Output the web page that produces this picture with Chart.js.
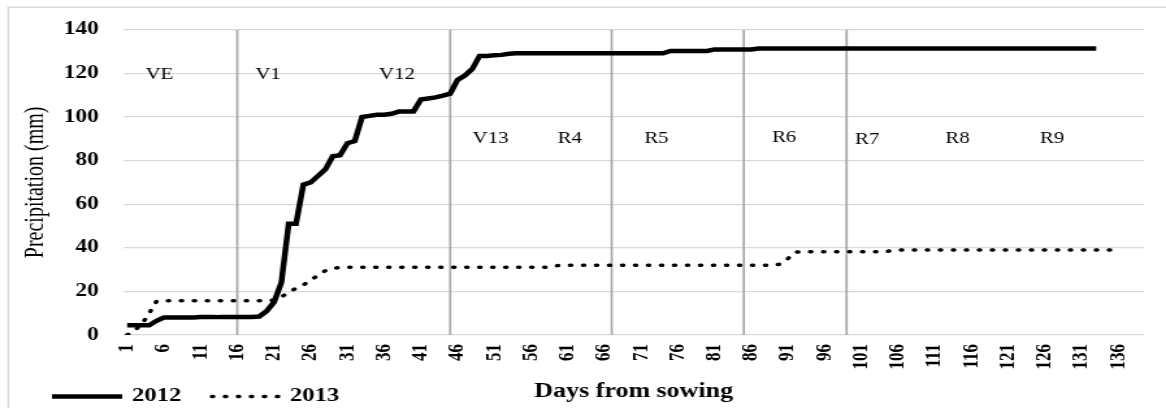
<!DOCTYPE html>
<html>
<head>
<meta charset="utf-8">
<script src="https://cdn.jsdelivr.net/npm/chart.js@4.4.0/dist/chart.umd.min.js"></script>
<style>
  html, body { margin: 0; padding: 0; background: #fff; }
</style>
</head>
<body>
<!-- drawn narrower and stretched sideways, like the original picture -->
<canvas id="precipChart" width="897" height="408" style="display:block;width:1166px;height:408px"></canvas>
<script>
const dayCount = 139;
const days = [];
for (let d = 1; d <= dayCount; d++) days.push(String(d));

// cumulative precipitation (mm), one value per day after sowing
const precip2012 = [
    4.5, 4.5, 4.5, 4.5, 6.5, 8, 8, 8, 8, 8,
    8.2, 8.2, 8.2, 8.3, 8.3, 8.3, 8.3, 8.3, 8.5, 11,
    15, 24, 51, 51, 69, 70, 73, 76, 82, 82.5,
    88, 89, 100, 100.5, 101, 101, 101.5, 102.5, 102.5, 102.5,
    108, 108.5, 109, 109.8, 110.7, 117, 119, 122, 128, 128,
    128.3, 128.5, 129, 129.2, 129.2, 129.2, 129.2, 129.2, 129.2, 129.2,
    129.2, 129.2, 129.2, 129.2, 129.2, 129.2, 129.2, 129.2, 129.2, 129.2,
    129.2, 129.2, 129.2, 129.2, 130.3, 130.3, 130.3, 130.3, 130.3, 130.3,
    131, 131, 131, 131, 131, 131, 131.4, 131.4, 131.4, 131.4,
    131.4, 131.4, 131.4, 131.4, 131.4, 131.4, 131.4, 131.4, 131.4, 131.4,
    131.4, 131.4, 131.4, 131.4, 131.4, 131.4, 131.4, 131.4, 131.4, 131.4,
    131.4, 131.4, 131.4, 131.4, 131.4, 131.4, 131.4, 131.4, 131.4, 131.4,
    131.4, 131.4, 131.4, 131.4, 131.4, 131.4, 131.4, 131.4, 131.4, 131.4,
    131.4, 131.4, 131.4
];

const precip2013 = [
    0, 2, 5, 10, 15.5, 15.7, 15.7, 15.7, 15.7, 15.7,
    15.7, 15.7, 15.7, 15.7, 15.7, 15.7, 15.7, 15.7, 15.7, 15.7,
    16, 17.5, 19.5, 21.5, 23, 25, 27.5, 29.5, 30.5, 31,
    31.1, 31.1, 31.1, 31.1, 31.1, 31.1, 31.1, 31.1, 31.1, 31.1,
    31.1, 31.1, 31.1, 31.1, 31.1, 31.1, 31.1, 31.1, 31.1, 31.1,
    31.1, 31.1, 31.1, 31.1, 31.1, 31.1, 31.1, 31.1, 31.6, 32,
    32, 32, 32, 32, 32, 32, 32, 32, 32, 32,
    32, 32, 32, 32, 32, 32, 32, 32, 32, 32,
    32, 32, 32, 32, 32, 32, 32, 32, 32, 32.5,
    35, 38, 38.2, 38.2, 38.2, 38.2, 38.2, 38.2, 38.2, 38.2,
    38.2, 38.2, 38.2, 38.2, 38.6, 39, 39, 39, 39, 39,
    39, 39, 39, 39, 39, 39, 39, 39, 39, 39,
    39, 39, 39, 39, 39, 39, 39, 39, 39, 39,
    39, 39, 39, 39, 39, 39
];

// growth stage boundaries and names
const stageLineDays = ['16', '45', '67', '85', '99'];
const stageNames = ['VE', 'V1', 'V12', 'V13', 'R4', 'R5', 'R6', 'R7', 'R8', 'R9'];
const stageLabelDays = [5.4, 20.2, 37.75, 50.5, 61.3, 73.1, 90.5, 101.8, 114.1, 127];
const stageLabelLevels = [119.5, 119.5, 119.5, 90, 90, 90, 90.5, 89.5, 89.8, 89.8];

const yMin = 0;
const yMax = 140;
const yStep = 20;

const serif = '"Liberation Serif", "Times New Roman", serif';
const dotDash = [1, 9];

const stageLines = stageLineDays.map(day => ({
    label: 'stage ' + day,
    data: [{ x: day, y: yMin }, { x: day, y: yMax }],
    borderColor: '#a6a6a6',
    borderWidth: 1.7,
    pointRadius: 0,
    order: 5
}));

const extrasPlugin = {
    id: 'extras',
    beforeDraw(chart) {
        const ctx = chart.ctx;
        ctx.save();
        ctx.strokeStyle = '#d9d9d9';
        ctx.lineWidth = 1.5;
        ctx.beginPath();
        ctx.moveTo(6.4, chart.height + 5);
        ctx.lineTo(6.4, 7.3);
        ctx.lineTo(chart.width + 5, 7.3);
        ctx.stroke();
        ctx.restore();
    },
    afterDraw(chart) {
        const { ctx, scales } = chart;
        const x = scales.x, y = scales.y;
        ctx.save();

        // stage names
        ctx.font = '16px ' + serif;
        ctx.fillStyle = '#000';
        ctx.textAlign = 'center';
        ctx.textBaseline = 'middle';
        stageNames.forEach((name, i) => {
            ctx.fillText(name, x.getPixelForValue(stageLabelDays[i] - 1), y.getPixelForValue(stageLabelLevels[i]));
        });

        // legend, bottom left
        const ds = chart.data.datasets;
        const ly = 396.5;
        ctx.font = 'bold 19px ' + serif;
        ctx.textAlign = 'left';

        ctx.strokeStyle = ds[0].borderColor;
        ctx.lineWidth = ds[0].borderWidth;
        ctx.beginPath();
        ctx.moveTo(40, ly);
        ctx.lineTo(94, ly);
        ctx.stroke();
        ctx.fillText(ds[0].label, 101.5, ly);

        ctx.strokeStyle = ds[1].borderColor;
        ctx.lineWidth = ds[1].borderWidth;
        ctx.lineCap = 'round';
        ctx.setLineDash(ds[1].borderDash);
        ctx.beginPath();
        ctx.moveTo(163, ly);
        ctx.lineTo(219, ly);
        ctx.stroke();
        ctx.setLineDash([]);
        ctx.fillText(ds[1].label, 223, ly);

        ctx.restore();
    }
};

const ctx = document.getElementById('precipChart').getContext('2d');
new Chart(ctx, {
    type: 'line',
    data: {
        labels: days,
        datasets: [
            {
                label: '2012',
                data: precip2012,
                borderColor: '#000',
                borderWidth: 4.5,
                pointRadius: 0,
                tension: 0,
                order: 1
            },
            {
                label: '2013',
                data: precip2013,
                borderColor: '#000',
                borderWidth: 3.5,
                borderDash: dotDash,
                borderCapStyle: 'round',
                pointRadius: 0,
                tension: 0,
                order: 0
            },
            ...stageLines
        ]
    },
    options: {
        responsive: false,
        animation: false,
        events: [],
        layout: {
            padding: { left: 0, right: 17, top: 29, bottom: 0 }
        },
        plugins: {
            legend: { display: false },
            tooltip: { enabled: false }
        },
        scales: {
            x: {
                type: 'category',
                offset: true,
                grid: { display: false, drawTicks: false },
                border: { display: false },
                ticks: {
                    autoSkip: false,
                    minRotation: 90,
                    maxRotation: 90,
                    padding: 9,
                    color: '#000',
                    font: { family: serif, size: 17, weight: 'bold' },
                    callback: function (value, index) {
                        return index % 5 === 0 ? this.getLabelForValue(value) : null;
                    }
                },
                title: {
                    display: true,
                    text: 'Days from sowing',
                    color: '#000',
                    font: { family: serif, size: 20, weight: 'bold' },
                    padding: { top: 0, bottom: 4.5 }
                },
                afterFit: scale => { scale.height = 73; }
            },
            y: {
                min: yMin,
                max: yMax,
                grid: { color: '#d9d9d9', lineWidth: 1.3, drawTicks: false },
                border: { display: false },
                ticks: {
                    stepSize: yStep,
                    padding: 19,
                    color: '#000',
                    font: { family: serif, size: 18, weight: 'bold' }
                },
                title: {
                    display: true,
                    text: 'Precipitation (mm)',
                    color: '#000',
                    font: { family: serif, size: 20 },
                    padding: { top: 16, bottom: 0 }
                },
                afterFit: scale => { scale.width = 95; }
            }
        }
    },
    plugins: [extrasPlugin]
});
</script>
</body>
</html>
